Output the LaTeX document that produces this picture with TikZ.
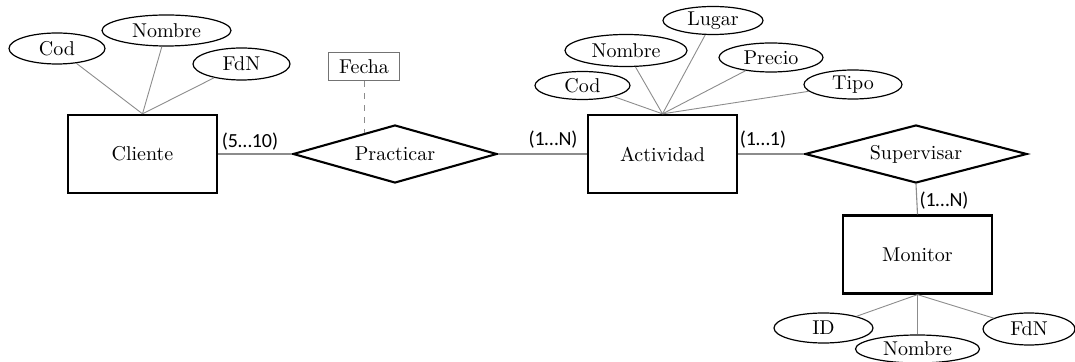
\documentclass[tikz,border=0pt]{standalone}
\usepackage{fontspec}
\usetikzlibrary{shapes.geometric,calc}
\newfontfamily\cardfont{Carlito}
\begin{document}
\begin{tikzpicture}[x=0.5pt,y=-0.5pt,
  font=\fontsize{10}{12}\selectfont,
  entity/.style={draw,line width=1.15pt,rectangle,inner sep=0pt,
    minimum width=74.5pt,minimum height=39pt},
  relation/.style={draw,line width=1.05pt,diamond,aspect=3.5,inner sep=0pt,
    minimum height=29pt},
  attr/.style={draw,line width=0.6pt,ellipse,inner sep=0pt,minimum height=15pt},
  attrbox/.style={draw=black!55,line width=0.5pt,rectangle,inner sep=0pt,
    minimum width=35.5pt,minimum height=14pt},
  attrline/.style={draw=black!45,line width=0.45pt},
  link/.style={draw=black!45,line width=0.55pt},
  card/.style={font=\cardfont\fontsize{10}{12}\selectfont,inner sep=0pt}]
\useasboundingbox (0,0) rectangle (1075,362);

% entities
\node[entity] (cli) at (142.5,154) {Cliente};
\node[entity] (act) at (662.5,154) {Actividad};
\node[entity] (mon) at (917.5,254.5) {Monitor};

% relationships
\node[relation,minimum width=102pt] (prac) at (395,154) {Practicar};
\node[relation,minimum width=111pt] (sup) at (916,154) {Supervisar};

% attributes of Cliente
\node[attr,minimum width=48pt,minimum height=15.5pt] (clicod) at (57,48.5) {Cod};
\node[attr,minimum width=64.5pt,minimum height=15.5pt] (clinom) at (166.5,30.5) {Nombre};
\node[attr,minimum width=48.5pt,minimum height=16pt] (clifdn) at (241.5,64) {FdN};

% attribute of Practicar
\coordinate (pracedge) at ($(prac.north)!0.3!(prac.west)$);
\node[attrbox] (fecha) at (pracedge |- 0,67) {Fecha};

% attributes of Actividad
\node[attr,minimum width=47.5pt,minimum height=14pt] (actcod) at (582.5,85.5) {Cod};
\node[attr,minimum width=61pt,minimum height=16pt] (actnom) at (626,50.5) {Nombre};
\node[attr,minimum width=50pt,minimum height=14pt] (actlug) at (713,20.5) {Lugar};
\node[attr,minimum width=52pt,minimum height=14.5pt] (actpre) at (771,57.5) {Precio};
\node[attr,minimum width=49pt,minimum height=14.5pt] (acttip) at (853,84.5) {Tipo};

% attributes of Monitor
\node[attr,minimum width=49.5pt,minimum height=15pt] (monid) at (823.5,328) {ID};
\node[attr,minimum width=62pt,minimum height=14pt] (monnom) at (917.5,349) {Nombre};
\node[attr,minimum width=46pt,minimum height=16pt] (monfdn) at (1029,329) {FdN};

% attribute lines
\foreach \a in {clicod,clinom,clifdn}
  \draw[attrline] (\a) -- (cli.north);
\foreach \a in {actcod,actnom,actlug,actpre,acttip}
  \draw[attrline] (\a) -- (act.north);
\foreach \a in {monid,monnom,monfdn}
  \draw[attrline] (mon.south) -- (\a);
\draw[attrline,dashed] (fecha.south) -- (pracedge);

% relationship links
\draw[link] (cli.east) -- (prac.west);
\draw[link] (prac.east) -- (act.west);
\draw[link] (act.east) -- (sup.west);
\draw[link] (sup.south) -- (mon.north);

% cardinalities
\node[card] (c1) at (250,142) {(5…10)};
\node[card] (c2) at (553,140) {(1…N)};
\node[card] (c3) at (763,140) {(1…1)};
\node[card] (c4) at (944,201) {(1…N)};
\end{tikzpicture}
\end{document}
